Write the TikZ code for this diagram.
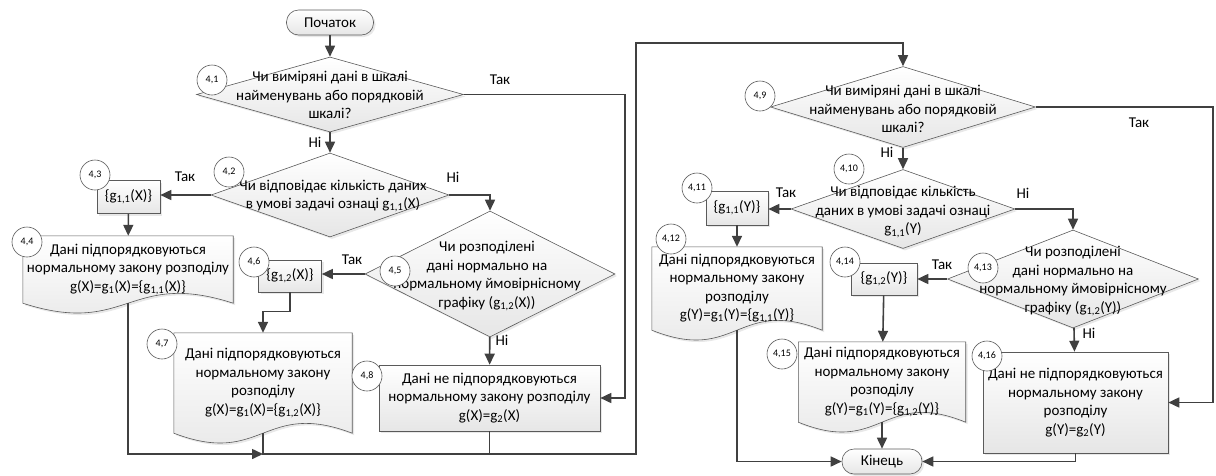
\documentclass[tikz,border=0pt]{standalone}
\usepackage{fontspec}
\setmainfont{Carlito}
\usepackage{tikz}
\usetikzlibrary{shapes.geometric, arrows.meta, calc, backgrounds, shadows}

\definecolor{linegray}{HTML}{404040}
\definecolor{edgegray}{HTML}{5A5A5A}
\definecolor{fillgray}{HTML}{E6E6E6}

\tikzset{
  flow/.style={draw=linegray, line width=1.6pt, -{Triangle[length=11pt,width=10pt]}},
  joinline/.style={draw=linegray, line width=1.6pt},
  shapefill/.style={draw=edgegray, line width=0.6pt, top color=white, bottom color=fillgray,
    drop shadow={opacity=0.18, shadow xshift=2pt, shadow yshift=-2pt}},
  terminal/.style={shapefill, rectangle, rounded corners=12pt, inner sep=0pt},
  decision/.style={shapefill, diamond, inner sep=0pt},
  process/.style={shapefill, rectangle, inner sep=0pt, align=center},
  docbox/.style={rectangle, inner sep=0pt, align=center},
  numcirc/.style={circle, draw=edgegray, line width=0.6pt, fill=white, minimum size=30pt, inner sep=0pt, font=\fontsize{10}{12}\selectfont},
  txt/.style={align=center, inner sep=0pt},
  lbl/.style={inner sep=0pt}
}

% document shape: box with a wavy bottom, drawn behind its text
\newcommand{\docoutline}[1]{%
  \begin{pgfonlayer}{background}
    \draw[shapefill] (#1.north west) -- (#1.north east) -- (#1.south east)
      .. controls ($(#1.south)+(0,-34)$) and ($(#1.south)+(0,34)$) .. (#1.south west) -- cycle;
  \end{pgfonlayer}}

\begin{document}
\begin{tikzpicture}[x=1pt, y=-1pt, font=\fontsize{15}{18.5}\selectfont]
\useasboundingbox (0,0) rectangle (1216,475);

% left part
\node[terminal, minimum width=87pt, minimum height=25pt] (start) at (330,22.5) {Початок};
\node[decision, minimum width=267pt, minimum height=75pt] (d41) at (330,94.5) {};
\node[txt] (t41) at (330,95) {Чи виміряні дані в шкалі\\найменувань або порядковій\\шкалі?};
\node[decision, minimum width=238pt, minimum height=84pt] (d42) at (330,195) {};
\node[txt] (t42) at (333,196) {Чи відповідає кількість даних\\в умові задачі ознаці g\textsubscript{1,1}(X)};
\node[process, minimum width=63pt, minimum height=33pt] (b43) at (128.5,197) {\{g\textsubscript{1,1}(X)\}};
\node[docbox, minimum width=210pt, minimum height=67pt] (b44) at (128,269.5) {Дані підпорядковуються\\нормальному закону розподілу\\g(X)=g\textsubscript{1}(X)=\{g\textsubscript{1,1}(X)\}};
\docoutline{b44}
\node[decision, minimum width=250pt, minimum height=126pt] (d45) at (490,274) {};
\node[txt] (t45) at (487,276) {Чи розподілені\\дані нормально на\\нормальному ймовірнісному\\графіку (g\textsubscript{1,2}(X))};
\node[process, minimum width=63pt, minimum height=32pt] (b46) at (290,276) {\{g\textsubscript{1,2}(X)\}};
\node[docbox, minimum width=178pt, minimum height=100pt] (b47) at (263,383) {Дані підпорядковуються\\нормальному закону\\розподілу\\g(X)=g\textsubscript{1}(X)=\{g\textsubscript{1,2}(X)\}};
\docoutline{b47}
\node[process, minimum width=221pt, minimum height=66pt] (b48) at (489.5,398) {Дані не підпорядковуються\\нормальному закону розподілу\\g(X)=g\textsubscript{2}(X)};

% right part
\node[decision, minimum width=265pt, minimum height=81pt] (d49) at (903,107) {};
\node[txt] (t49) at (903,109) {Чи виміряні дані в шкалі\\найменувань або порядковій\\шкалі?};
\node[decision, minimum width=224pt, minimum height=79pt] (d410) at (903,209) {};
\node[txt] (t410) at (903,212) {Чи відповідає кількість\\даних в умові задачі ознаці\\g\textsubscript{1,1}(Y)};
\node[process, minimum width=62pt, minimum height=34pt] (b411) at (737,208) {\{g\textsubscript{1,1}(Y)\}};
\node[docbox, minimum width=170pt, minimum height=83pt] (b412) at (737,288.5) {Дані підпорядковуються\\нормальному закону\\розподілу\\g(Y)=g\textsubscript{1}(Y)=\{g\textsubscript{1,1}(Y)\}};
\docoutline{b412}
\node[decision, minimum width=251pt, minimum height=98pt] (d413) at (1073,279) {};
\node[txt] (t413) at (1073,281) {Чи розподілені\\дані нормально на\\нормальному ймовірнісному\\графіку (g\textsubscript{1,2}(Y))};
\node[process, minimum width=66pt, minimum height=32pt] (b414) at (884,279) {\{g\textsubscript{1,2}(Y)\}};
\node[docbox, minimum width=167pt, minimum height=80pt] (b415) at (882,382) {Дані підпорядковуються\\нормальному закону\\розподілу\\g(Y)=g\textsubscript{1}(Y)=\{g\textsubscript{1,2}(Y)\}};
\docoutline{b415}
\node[process, minimum width=185pt, minimum height=101pt] (b416) at (1075.5,402.5) {Дані не підпорядковуються\\нормальному закону\\розподілу\\g(Y)=g\textsubscript{2}(Y)};
\node[terminal, minimum width=80pt, minimum height=25pt] (end) at (882,461.5) {Кінець};

% step numbers
\node[numcirc] (c41) at (212,80) {4,1};
\node[numcirc] (c42) at (229,172) {4,2};
\node[numcirc] (c43) at (95,175) {4,3};
\node[numcirc] (c44) at (27,242) {4,4};
\node[numcirc] (c45) at (395,271) {4,5};
\node[numcirc] (c46) at (254,262) {4,6};
\node[numcirc] (c47) at (162,344) {4,7};
\node[numcirc] (c48) at (367,376) {4,8};
\node[numcirc] (c49) at (760,96) {4,9};
\node[numcirc] (c410) at (849,169) {4,10};
\node[numcirc] (c411) at (697,188) {4,11};
\node[numcirc] (c412) at (671,239) {4,12};
\node[numcirc] (c413) at (983,268) {4,13};
\node[numcirc] (c414) at (845,262) {4,14};
\node[numcirc] (c415) at (782,354) {4,15};
\node[numcirc] (c416) at (987,356) {4,16};

% bends
\coordinate (r41) at (625,94.5);
\coordinate (j47) at (263,454);
\coordinate (bl) at (636,454);
\coordinate (tl) at (636,43);
\coordinate (r49) at (1213,107);

\draw[flow] (start) -- (d41);
\draw[flow] (d41) -- (d42);
\draw[flow] (d41.east) -- (r41) |- (b48.east);
\draw[flow] (d42.west) -- (d42.west -| b43.east);
\draw[flow] (d42.east) -| (d45.north);
\draw[flow] (b43) -- (b44);
\draw[flow] (d45.west) -- (d45.west -| b46.east);
\draw[flow] (d45) -- (b48);
\draw[flow] (b46.south) -- ++(0,19) -| (b47.north);
\draw[flow] (b44.south) |- (j47);
\draw[flow] (b47.south) -- (j47) -- (bl) -- (tl) -| (d49.north);
\draw[joinline] (b48.south) -- (b48.south |- bl);

\draw[flow] (d49) -- (d410);
\draw[flow] (d49.east) -- (r49) |- (b416.east);
\draw[flow] (d410.west) -- (d410.west -| b411.east);
\draw[flow] (d410.east) -| (d413.north);
\draw[flow] (b411) -- (b412);
\draw[flow] (d413.west) -- (d413.west -| b414.east);
\draw[flow] (d413) -- (b416);
\draw[flow] (b414) -- (b415);
\draw[flow] (b412.south) |- (end.west);
\draw[flow] (b415.south) -- (end.north);
\draw[flow] (b416.south) |- (end.east);

% branch labels
\node[lbl] (l41n) at (315,142) {Ні};
\node[lbl] (l41y) at (500,80) {Так};
\node[lbl] (l42y) at (185,177) {Так};
\node[lbl] (l42n) at (453,177) {Ні};
\node[lbl] (l45y) at (352,260) {Так};
\node[lbl] (l45n) at (502,340) {Ні};
\node[lbl] (l49y) at (1139,123) {Так};
\node[lbl] (l49n) at (887,152) {Ні};
\node[lbl] (l410y) at (786,193) {Так};
\node[lbl] (l410n) at (1023,193) {Ні};
\node[lbl] (l413y) at (942,265) {Так};
\node[lbl] (l413n) at (1089,333) {Ні};
\end{tikzpicture}
\end{document}
